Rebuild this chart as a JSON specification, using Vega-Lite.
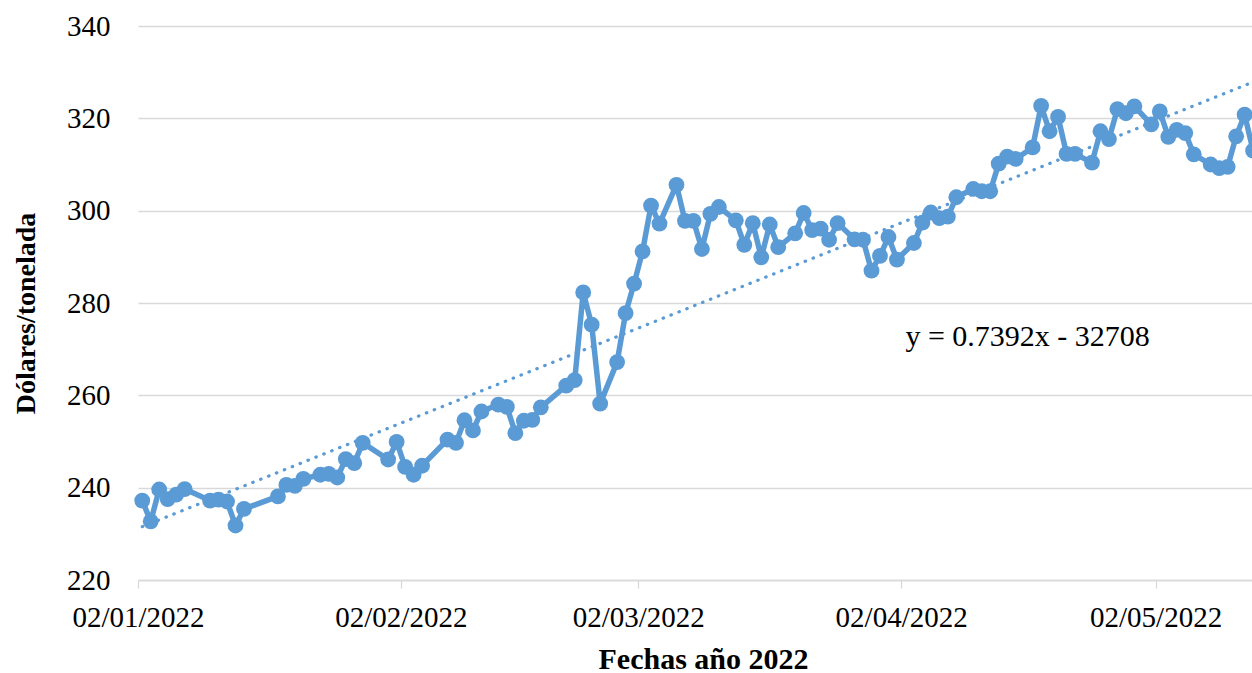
{
  "$schema": "https://vega.github.io/schema/vega-lite/v6.json",
  "width": 1114,
  "height": 554,
  "autosize": "none",
  "padding": {"left": 138, "top": 26, "right": 0, "bottom": 93},
  "background": "white",
  "config": {"view": {"stroke": null}, "font": "Liberation Serif"},
  "datasets": {
    "precio": [
      {"date": "2022-01-02", "value": 237.2},
      {"date": "2022-01-03", "value": 232.7},
      {"date": "2022-01-04", "value": 239.6},
      {"date": "2022-01-05", "value": 237.5},
      {"date": "2022-01-06", "value": 238.5},
      {"date": "2022-01-07", "value": 239.7},
      {"date": "2022-01-10", "value": 237.2},
      {"date": "2022-01-11", "value": 237.4},
      {"date": "2022-01-12", "value": 237.0},
      {"date": "2022-01-13", "value": 231.8},
      {"date": "2022-01-14", "value": 235.4},
      {"date": "2022-01-18", "value": 238.1},
      {"date": "2022-01-19", "value": 240.6},
      {"date": "2022-01-20", "value": 240.4},
      {"date": "2022-01-21", "value": 241.9},
      {"date": "2022-01-23", "value": 242.8},
      {"date": "2022-01-24", "value": 243.0},
      {"date": "2022-01-25", "value": 242.2},
      {"date": "2022-01-26", "value": 246.2},
      {"date": "2022-01-27", "value": 245.3},
      {"date": "2022-01-28", "value": 249.7},
      {"date": "2022-01-31", "value": 246.1},
      {"date": "2022-02-01", "value": 249.9},
      {"date": "2022-02-02", "value": 244.5},
      {"date": "2022-02-03", "value": 242.8},
      {"date": "2022-02-04", "value": 244.75},
      {"date": "2022-02-07", "value": 250.4},
      {"date": "2022-02-08", "value": 249.7},
      {"date": "2022-02-09", "value": 254.6},
      {"date": "2022-02-10", "value": 252.4},
      {"date": "2022-02-11", "value": 256.5},
      {"date": "2022-02-13", "value": 258.0},
      {"date": "2022-02-14", "value": 257.5},
      {"date": "2022-02-15", "value": 251.8},
      {"date": "2022-02-16", "value": 254.5},
      {"date": "2022-02-17", "value": 254.7},
      {"date": "2022-02-18", "value": 257.4},
      {"date": "2022-02-21", "value": 262.1},
      {"date": "2022-02-22", "value": 263.3},
      {"date": "2022-02-23", "value": 282.3},
      {"date": "2022-02-24", "value": 275.3},
      {"date": "2022-02-25", "value": 258.2},
      {"date": "2022-02-27", "value": 267.2},
      {"date": "2022-02-28", "value": 277.8},
      {"date": "2022-03-01", "value": 284.2},
      {"date": "2022-03-02", "value": 291.2},
      {"date": "2022-03-03", "value": 301.1},
      {"date": "2022-03-04", "value": 297.2},
      {"date": "2022-03-06", "value": 305.6},
      {"date": "2022-03-07", "value": 297.8},
      {"date": "2022-03-08", "value": 297.8},
      {"date": "2022-03-09", "value": 291.7},
      {"date": "2022-03-10", "value": 299.3},
      {"date": "2022-03-11", "value": 300.8},
      {"date": "2022-03-13", "value": 297.9},
      {"date": "2022-03-14", "value": 292.6},
      {"date": "2022-03-15", "value": 297.3},
      {"date": "2022-03-16", "value": 289.9},
      {"date": "2022-03-17", "value": 297.0},
      {"date": "2022-03-18", "value": 292.1},
      {"date": "2022-03-20", "value": 295.1},
      {"date": "2022-03-21", "value": 299.5},
      {"date": "2022-03-22", "value": 295.8},
      {"date": "2022-03-23", "value": 296.1},
      {"date": "2022-03-24", "value": 293.7},
      {"date": "2022-03-25", "value": 297.3},
      {"date": "2022-03-27", "value": 293.8},
      {"date": "2022-03-28", "value": 293.7},
      {"date": "2022-03-29", "value": 287.0},
      {"date": "2022-03-30", "value": 290.2},
      {"date": "2022-03-31", "value": 294.3},
      {"date": "2022-04-01", "value": 289.4},
      {"date": "2022-04-03", "value": 293.0},
      {"date": "2022-04-04", "value": 297.4},
      {"date": "2022-04-05", "value": 299.6},
      {"date": "2022-04-06", "value": 298.4},
      {"date": "2022-04-07", "value": 298.7},
      {"date": "2022-04-08", "value": 302.9},
      {"date": "2022-04-10", "value": 304.7},
      {"date": "2022-04-11", "value": 304.2},
      {"date": "2022-04-12", "value": 304.2},
      {"date": "2022-04-13", "value": 310.2},
      {"date": "2022-04-14", "value": 311.7},
      {"date": "2022-04-15", "value": 311.2},
      {"date": "2022-04-17", "value": 313.7},
      {"date": "2022-04-18", "value": 322.7},
      {"date": "2022-04-19", "value": 317.2},
      {"date": "2022-04-20", "value": 320.3},
      {"date": "2022-04-21", "value": 312.3},
      {"date": "2022-04-22", "value": 312.3},
      {"date": "2022-04-24", "value": 310.4},
      {"date": "2022-04-25", "value": 317.2},
      {"date": "2022-04-26", "value": 315.5},
      {"date": "2022-04-27", "value": 322.0},
      {"date": "2022-04-28", "value": 321.1},
      {"date": "2022-04-29", "value": 322.6},
      {"date": "2022-05-01", "value": 318.7},
      {"date": "2022-05-02", "value": 321.5},
      {"date": "2022-05-03", "value": 316.0},
      {"date": "2022-05-04", "value": 317.5},
      {"date": "2022-05-05", "value": 316.8},
      {"date": "2022-05-06", "value": 312.2},
      {"date": "2022-05-08", "value": 310.0},
      {"date": "2022-05-09", "value": 309.2},
      {"date": "2022-05-10", "value": 309.5},
      {"date": "2022-05-11", "value": 316.1},
      {"date": "2022-05-12", "value": 320.8},
      {"date": "2022-05-13", "value": 313.0}
    ],
    "tendencia": [
      {"date": "2022-01-02", "value": 231.55},
      {"date": "2022-05-14", "value": 328.6}
    ],
    "ecuacion": [
      {"date": "2022-04-02", "value": 270.6, "label": "y = 0.7392x - 32708"}
    ]
  },
  "encoding": {
    "x": {
      "field": "date",
      "type": "temporal",
      "timeUnit": "utcyearmonthdate",
      "bandPosition": 0.5,
      "scale": {
        "type": "utc",
        "nice": false,
        "domain": [
          {"year": 2022, "month": 1, "date": 2, "utc": true},
          {"year": 2022, "month": 5, "date": 13, "hours": 8, "minutes": 53, "utc": true}
        ]
      },
      "axis": {
        "values": [
          {"year": 2022, "month": 1, "date": 2, "utc": true},
          {"year": 2022, "month": 2, "date": 2, "utc": true},
          {"year": 2022, "month": 3, "date": 2, "utc": true},
          {"year": 2022, "month": 4, "date": 2, "utc": true},
          {"year": 2022, "month": 5, "date": 2, "utc": true}
        ],
        "format": "%d/%m/%Y",
        "grid": false,
        "labelFont": "Liberation Serif",
        "labelFontSize": 29,
        "labelColor": "#000000",
        "labelFlush": false,
        "labelOverlap": false,
        "labelPadding": 15,
        "tickSize": 8,
        "tickColor": "#d9d9d9",
        "tickWidth": 1.3,
        "domainColor": "#d9d9d9",
        "domainWidth": 1.3,
        "title": "Fechas año 2022",
        "titleFont": "Liberation Serif",
        "titleFontSize": 30,
        "titleFontWeight": "bold",
        "titleColor": "#000000",
        "titleAlign": "center",
        "titleBaseline": "alphabetic",
        "titleX": 565,
        "titleY": 88
      }
    },
    "y": {
      "field": "value",
      "type": "quantitative",
      "scale": {"domain": [220, 340], "nice": false, "zero": false},
      "axis": {
        "values": [220, 240, 260, 280, 300, 320, 340],
        "grid": true,
        "gridColor": "#d9d9d9",
        "gridWidth": 1.3,
        "domain": false,
        "ticks": false,
        "tickSize": 0,
        "labelPadding": 28,
        "labelFont": "Liberation Serif",
        "labelFontSize": 29,
        "labelColor": "#000000",
        "title": "Dólares/tonelada",
        "titleFont": "Liberation Serif",
        "titleFontSize": 28,
        "titleFontWeight": "bold",
        "titleColor": "#000000",
        "titleAngle": -90,
        "titleAlign": "center",
        "titleBaseline": "alphabetic",
        "titleX": -104,
        "titleY": 287
      }
    }
  },
  "layer": [
    {
      "data": {"name": "precio"},
      "mark": {
        "type": "line",
        "color": "#5B9BD5",
        "strokeWidth": 5.5,
        "strokeJoin": "round",
        "point": {"filled": true, "size": 250, "color": "#5B9BD5", "opacity": 1}
      }
    },
    {
      "data": {"name": "tendencia"},
      "mark": {
        "type": "line",
        "color": "#5B9BD5",
        "strokeWidth": 3.2,
        "strokeDash": [0.5, 8],
        "strokeCap": "round",
        "clip": true
      }
    },
    {
      "data": {"name": "ecuacion"},
      "mark": {
        "type": "text",
        "align": "left",
        "baseline": "alphabetic",
        "font": "Liberation Serif",
        "fontSize": 30,
        "color": "#000000"
      },
      "encoding": {
        "text": {"field": "label"}
      }
    }
  ]
}
